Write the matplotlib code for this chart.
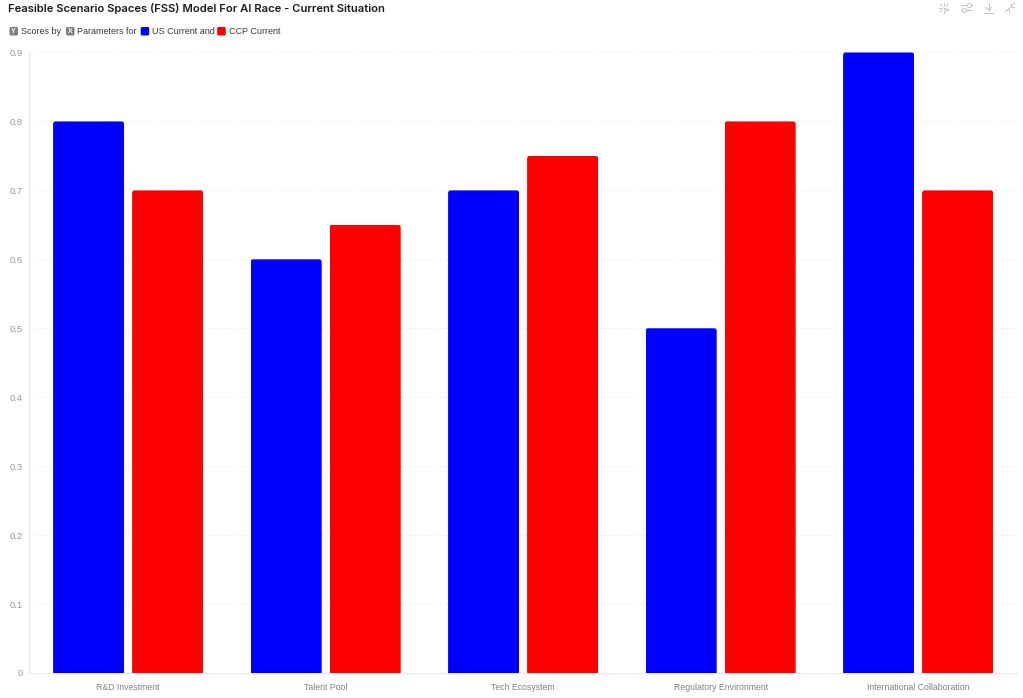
#!/usr/bin/env python3
import matplotlib
matplotlib.use("Agg")
import matplotlib.pyplot as plt
from matplotlib.patches import FancyBboxPatch

categories = ["R&D Investment", "Talent Pool", "Tech Ecosystem",
              "Regulatory Environment", "International Collaboration"]
us_current = [0.8, 0.6, 0.7, 0.5, 0.9]
ccp_current = [0.7, 0.65, 0.75, 0.8, 0.7]
y_ticks = [0, 0.1, 0.2, 0.3, 0.4, 0.5, 0.6, 0.7, 0.8, 0.9]
y_labels = ["0", "0.1", "0.2", "0.3", "0.4", "0.5", "0.6", "0.7", "0.8", "0.9"]

W, H = 1023, 698
plt.rcParams["font.family"] = ["Liberation Sans", "DejaVu Sans"]


def round_tops(bars, ax, radius_px=2.5):
    # clip each bar with a rounded box, the bottom corners hang below the axis
    step_x = 197.5
    step_y = (673 - 52.5) / 0.9
    for b in bars:
        x, w, h = b.get_x(), b.get_width(), b.get_height()
        clip = FancyBboxPatch(
            (x, -0.02), w, h + 0.02,
            boxstyle=f"round,pad=0,rounding_size={radius_px / step_x}",
            mutation_aspect=step_x / step_y,
            transform=ax.transData,
        )
        b.set_clip_path(clip)


fig = plt.figure(figsize=(W / 100, H / 100), dpi=100, facecolor="white")
ax = fig.add_axes([29.4 / W, 1 - 673 / H, (1016.9 - 29.4) / W, (673 - 52.5) / H])

pos = list(range(len(categories)))
us_bars = ax.bar([p - 0.2 for p in pos], us_current, width=0.36, color="#0000ff", zorder=3)
ccp_bars = ax.bar([p + 0.2 for p in pos], ccp_current, width=0.36, color="#ff0000", zorder=3)
round_tops(us_bars, ax)
round_tops(ccp_bars, ax)

ax.set_xlim(-0.5, 4.5)
ax.set_ylim(0, 0.9)
ax.set_xticks(pos)
ax.set_xticklabels(categories)
ax.set_yticks(y_ticks)
ax.set_yticklabels(y_labels)
ax.tick_params(axis="x", length=0, labelsize=6.3, labelcolor="#828282", pad=7)
ax.tick_params(axis="y", length=0, labelsize=6.8, labelcolor="#999999", pad=5)
ax.grid(True, axis="y", color="#ececec", linestyle=(0, (3, 3)), linewidth=0.6, zorder=0)
ax.set_axisbelow(True)
for side in ["top", "right"]:
    ax.spines[side].set_visible(False)
for side in ["left", "bottom"]:
    ax.spines[side].set_color("#e8e8e8")
    ax.spines[side].set_linewidth(0.9)

# title, legend row and toolbar icons sit in pixel coordinates
ov = fig.add_axes([0, 0, 1, 1], facecolor="none")
ov.set_xlim(0, W)
ov.set_ylim(H, 0)
ov.axis("off")

ov.text(8, 8.5, "Feasible Scenario Spaces (FSS) Model For AI Race - Current Situation",
        fontsize=8.1, fontweight="semibold", family=["Inter", "DejaVu Sans"],
        color="#1c1c1c", va="center", ha="left")


def key(x, color, letter=None):
    ov.add_patch(FancyBboxPatch((x, 27), 8.5, 8.5, boxstyle="round,pad=0,rounding_size=1.5",
                                facecolor=color, edgecolor="none"))
    if letter:
        ov.text(x + 4.2, 31.2, letter, fontsize=5, fontweight="bold", color="white",
                ha="center", va="center")


legend_text = [(21, "Scores by"), (77, "Parameters for"), (152, "US Current and"), (229, "CCP Current")]
for x, s in legend_text:
    ov.text(x, 31, s, fontsize=6.5, color="#3a3a3a", ha="left", va="center")
key(9.5, "#808080", "Y")
key(66, "#808080", "X")
key(140.7, "#0000ff")
key(217.2, "#ff0000")

icon = "#c4c4c4"
# sparkle
for dx, dy in [(-4, 0), (0, -4), (0, 4), (-3, -3), (3, -3), (-3, 3)]:
    ov.plot([944 + dx * 0.7, 944 + dx * 1.25], [8 + dy * 0.7, 8 + dy * 1.25], color=icon, lw=0.7)
ov.plot([944, 949, 945.5, 944], [8, 10, 11, 8], color=icon, lw=0.7)
# sliders
ov.plot([961, 972], [5, 5], color=icon, lw=0.7)
ov.plot([961, 972], [10, 10], color=icon, lw=0.7)
ov.plot([969], [5], marker="o", ms=3, mfc="white", mec=icon, mew=0.7)
ov.plot([964], [10], marker="o", ms=3, mfc="white", mec=icon, mew=0.7)
# download
ov.plot([988.5, 988.5], [3, 10], color=icon, lw=0.7)
ov.plot([985.5, 988.5, 991.5], [7.5, 10, 7.5], color=icon, lw=0.7)
ov.plot([984, 993], [12.5, 12.5], color=icon, lw=0.8)
# collapse arrows
ov.plot([1010.5, 1014.5], [7, 3], color=icon, lw=0.7)
ov.plot([1011, 1011, 1014], [4, 6.5, 6.5], color=icon, lw=0.7)
ov.plot([1009, 1005.5], [8.5, 12], color=icon, lw=0.7)
ov.plot([1006, 1009, 1009], [8.5, 8.5, 11.5], color=icon, lw=0.7)

fig.savefig("out.png", dpi=100)
